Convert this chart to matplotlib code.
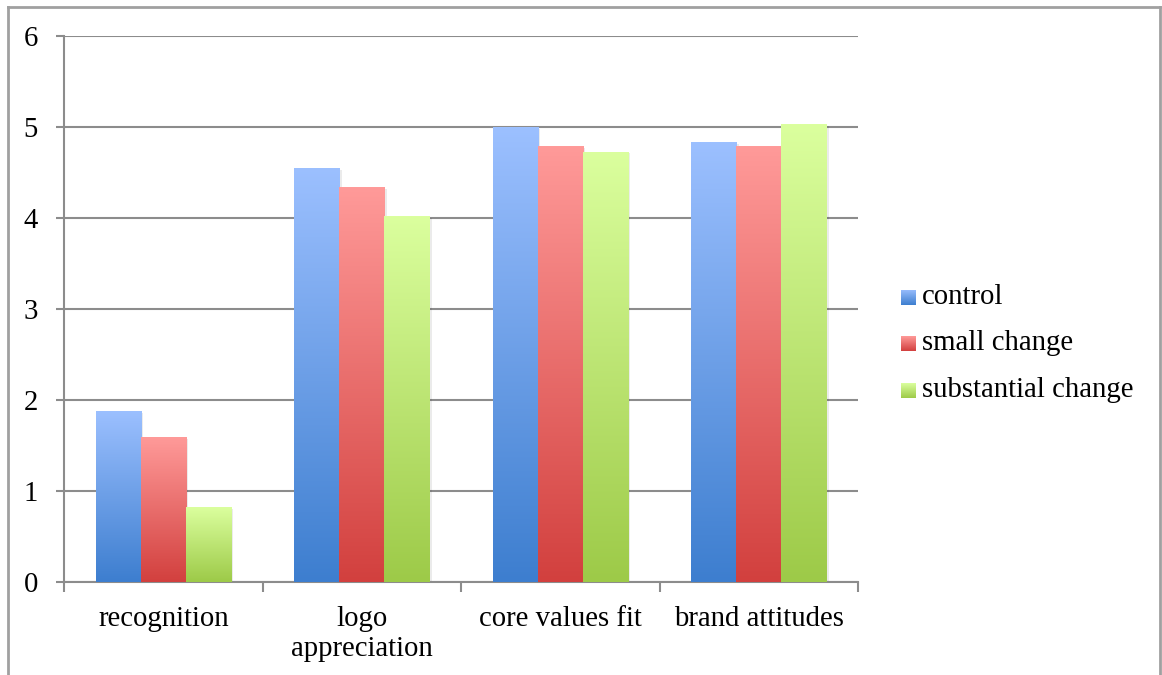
import numpy as np
import matplotlib
matplotlib.use('Agg')
import matplotlib.pyplot as plt
from matplotlib.colors import LinearSegmentedColormap
from matplotlib.patches import Rectangle
from matplotlib.lines import Line2D

# Data
categories = ['recognition', 'logo\nappreciation', 'core values fit', 'brand attitudes']
series = ['control', 'small change', 'substantial change']
control = [1.88, 4.55, 5.00, 4.83]
small_change = [1.59, 4.34, 4.79, 4.79]
substantial_change = [0.82, 4.02, 4.73, 5.03]
values = [control, small_change, substantial_change]

# (top colour, bottom colour) of each series gradient
gradients = [('#9cc0ff', '#3d7ecf'), ('#ff9a99', '#d2403e'), ('#dbff9e', '#9dca48')]

plt.rcParams['font.family'] = ['Liberation Serif', 'DejaVu Serif']
fs = 20.7

fig = plt.figure(figsize=(11.62, 6.75), dpi=100)
ax = fig.add_axes([64 / 1162, 93 / 675, 794 / 1162, 546 / 675])

n = len(categories)
x = np.arange(n)
width = 0.227
grad = np.linspace(1, 0, 256).reshape(-1, 1)

for k, (name, vals) in enumerate(zip(series, values)):
    top, bottom = gradients[k]
    cmap = LinearSegmentedColormap.from_list(name, [bottom, top])
    offs = (k - 1) * width
    bars = ax.bar(x + offs, vals, width, facecolor='none', edgecolor='none', zorder=3)
    for b in bars:
        x0, y0 = b.get_x(), b.get_y()
        w, h = b.get_width(), b.get_height()
        # soft shadow
        ax.add_patch(Rectangle((x0 + 0.012, y0 - 0.02), w, h, facecolor='#000000',
                               alpha=0.08, edgecolor='none', zorder=2))
        im = ax.imshow(grad, cmap=cmap, aspect='auto', vmin=0, vmax=1,
                       extent=[x0, x0 + w, y0, y0 + h], zorder=3,
                       interpolation='bilinear')
        im.set_clip_path(b)

ax.set_xlim(-0.5, n - 0.5)
ax.set_ylim(0, 6)

# Axes styling
for s in ['top', 'right']:
    ax.spines[s].set_visible(False)
for s in ['left', 'bottom']:
    ax.spines[s].set_color('#8c8c8c')
    ax.spines[s].set_linewidth(1.5)

ax.set_yticks(range(0, 7))
ax.yaxis.grid(True, color='#8c8c8c', linewidth=1.5, zorder=1)
ax.set_axisbelow(True)
ax.tick_params(axis='y', direction='out', length=5.8, width=1.5, color='#8c8c8c',
               labelsize=fs, pad=13)

ax.set_xticks(x)
ax.set_xticklabels(categories, fontsize=fs, linespacing=1.22)
ax.tick_params(axis='x', which='major', length=0, pad=17)
ax.set_xticks(np.arange(-0.5, n, 1.0), minor=True)
ax.tick_params(axis='x', which='minor', direction='out', length=7.2, width=1.5,
               color='#8c8c8c')

# Legend with gradient swatches
legend_y = [297, 343, 390]
for k, name in enumerate(series):
    top, bottom = gradients[k]
    cmap = LinearSegmentedColormap.from_list(name + '_leg', [bottom, top])
    yc = legend_y[k]
    sw = fig.add_axes([901 / 1162, (675 - yc - 8) / 675, 15 / 1162, 15 / 675])
    sw.imshow(grad, cmap=cmap, aspect='auto', vmin=0, vmax=1)
    sw.axis('off')
    fig.text(922 / 1162, (675 - yc) / 675, name, fontsize=fs, va='center', ha='left')

# Outer chart border
bc = '#a0a0a0'
fig.add_artist(Line2D([8 / 1162, 8 / 1162], [0, 1 - 7 / 675], color=bc, lw=2))
fig.add_artist(Line2D([8 / 1162, 1160 / 1162], [1 - 7 / 675, 1 - 7 / 675], color=bc, lw=2))
fig.add_artist(Line2D([1160 / 1162, 1160 / 1162], [0, 1 - 7 / 675], color=bc, lw=2))

fig.savefig('out.png', dpi=100)
